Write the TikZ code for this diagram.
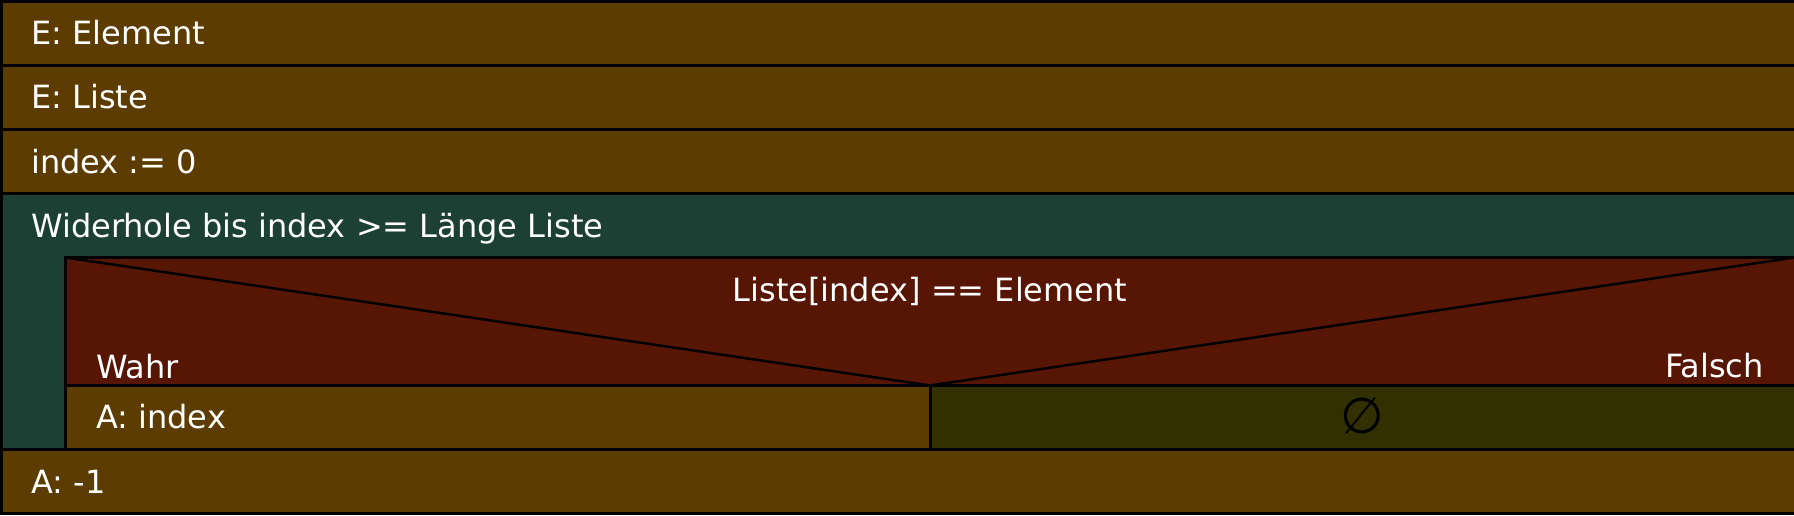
\documentclass[tikz,border=0pt]{standalone}
\usepackage{fontspec}
\setmainfont{DejaVu Sans}
\definecolor{rowbrown}{HTML}{5C3C00}
\definecolor{loopteal}{HTML}{1C4034}
\definecolor{condred}{HTML}{571504}
\definecolor{emptyolive}{HTML}{333000}
\begin{document}
\begin{tikzpicture}[x=1pt,y=-1pt,
  boxline/.style={draw=black,line width=3pt},
  diagline/.style={draw=black,line width=2.5pt},
  lbl/.style={text=white,inner sep=0pt,anchor=base west,font=\fontsize{32}{38}\selectfont},
  lblc/.style={lbl,anchor=base},
  lble/.style={lbl,anchor=base east}]
\useasboundingbox (0,0) rectangle (1794,516);
% loop block
\path[boxline,fill=loopteal] (1.5,193.5) rectangle (1797,449.5);
% decision
\path[boxline,fill=condred] (65.5,257.5) rectangle (1797,385.5);
\path[boxline,fill=rowbrown] (65.5,385.5) rectangle (930,449.5);
\path[boxline,fill=emptyolive] (930,385.5) rectangle (1797,449.5);
\coordinate (dl) at (65.5,257.5);
\coordinate (dm) at (930,385.5);
\coordinate (dr) at (1794.5,257.5);
\draw[diagline] (dl) -- (dm) -- (dr);
% plain rows
\path[boxline,fill=rowbrown] (1.5,1.5) rectangle (1797,65.5);
\path[boxline,fill=rowbrown] (1.5,65.5) rectangle (1797,129.5);
\path[boxline,fill=rowbrown] (1.5,129.5) rectangle (1797,193.5);
\path[boxline,fill=rowbrown] (1.5,449.5) rectangle (1797,513.5);
% texts
\node[lbl] (t1) at (31,45) {E: Element};
\node[lbl] (t2) at (31,109) {E: Liste};
\node[lbl] (t3) at (31,173) {index := 0};
\node[lbl] (loop) at (31,237) {Widerhole bis index >= Länge Liste};
\node[lblc] (cond) at (930,301) {Liste[index] == Element};
\node[lbl] (wahr) at (96,378) {Wahr};
\node[lble] (falsch) at (1764,377.5) {Falsch};
\node[lbl] (ai) at (96,428) {A: index};
\node[inner sep=0pt,text=black,font=\fontsize{50}{56}\selectfont] (empty) at (1362,416) {∅};
\node[lbl] (am1) at (31,493) {A: -1};
\end{tikzpicture}
\end{document}
